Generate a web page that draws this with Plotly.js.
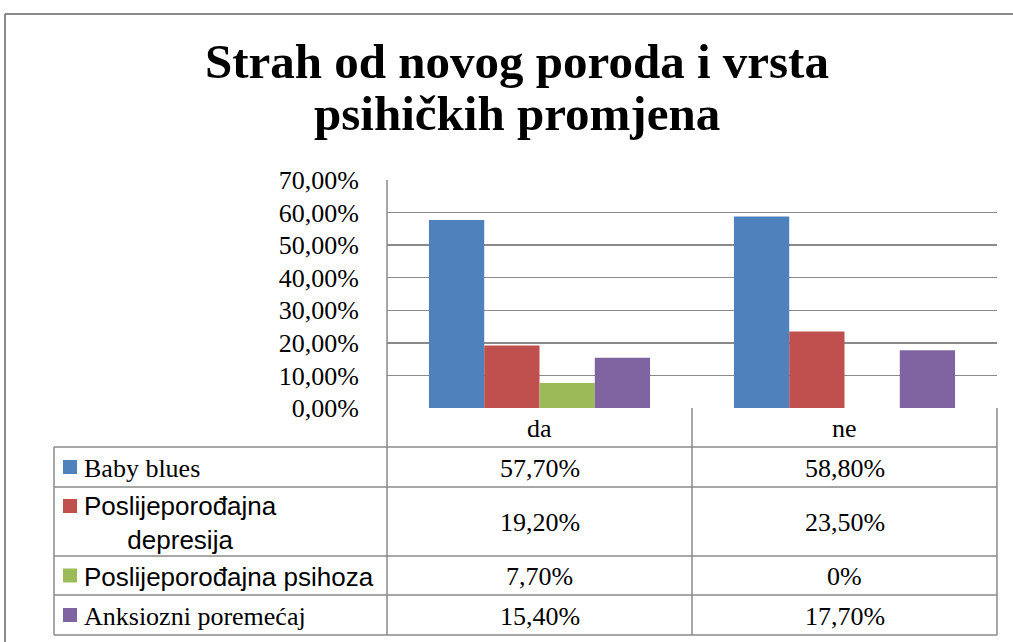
<!DOCTYPE html>
<html>
<head>
<meta charset="utf-8">
<script src="https://cdn.plot.ly/plotly-3.0.1.min.js"></script>
<style>html,body{margin:0;padding:0;background:#fff;}#chart{width:1013px;height:642px;}</style>
</head>
<body>
<div id="chart"></div>
<script>
const categories = ["da", "ne"];
const seriesNames = ["Baby blues", "Poslijeporođajna<br>depresija", "Poslijeporođajna psihoza", "Anksiozni poremećaj"];
const babyBlues = [57.7, 58.8];
const depresija = [19.2, 23.5];
const psihoza = [7.7, 0];
const anksiozni = [15.4, 17.7];
const yTickVals = [0, 10, 20, 30, 40, 50, 60, 70];
const yTickText = ["0,00%", "10,00%", "20,00%", "30,00%", "40,00%", "50,00%", "60,00%", "70,00%"];
const titleLines = ["Strah od novog poroda i vrsta", "psihičkih promjena"];

const seriesValues = [babyBlues, depresija, psihoza, anksiozni];
const colors = ["#4F81BD", "#C0504D", "#9BBB59", "#8064A2"];
const serifFont = "Liberation Serif, DejaVu Serif, serif";
const sansFont = "Liberation Sans, Arial, sans-serif";
const labelFonts = [serifFont, sansFont, sansFont, serifFont];

// pixel layout helpers
const L = 387, R = 997, T = 180, B = 408;
const px = x => (x - L) / (R - L);
const py = y => (B - y) / (B - T);

function fmt(v) {
  if (v === 0) return "0%";
  return v.toFixed(2).replace(".", ",") + "%";
}

const traces = seriesValues.map((vals, i) => ({
  type: "bar",
  x: categories,
  y: vals,
  name: seriesNames[i],
  marker: {color: colors[i], line: {width: 0}},
  hoverinfo: "none"
}));

const gray = "#8a8a8a";
const shapes = [];
function line(x0, y0, x1, y1, w) {
  shapes.push({type: "line", xref: "paper", yref: "paper",
    x0: px(x0), y0: py(y0), x1: px(x1), y1: py(y1),
    line: {color: gray, width: w || 1.5}});
}
// outer border
line(5, 14, 1013, 14, 2);
line(5, 14, 5, 642, 2);
// table
const rowY = [408, 447, 487, 556, 595, 635];
line(387, 180, 387, 635);
line(692, 408, 692, 635);
line(997, 408, 997, 635);
line(54, 447, 54, 635);
for (let k = 1; k < rowY.length; k++) line(54, rowY[k], 997, rowY[k]);

const txtSize = 26;
const annotations = [];
// title lines
titleLines.forEach((t, i) => {
  annotations.push({xref: "paper", yref: "paper", x: px(517), y: py(62 + i * 51), text: "<b>" + t + "</b>",
    showarrow: false, xanchor: "center", yanchor: "middle", borderpad: 0,
    font: {family: serifFont, size: 49, color: "#000"}});
});
// category headers
categories.forEach(c => {
  annotations.push({xref: "x", yref: "paper", x: c, y: py(428), text: c, showarrow: false,
    font: {family: serifFont, size: txtSize, color: "#000"}, xanchor: "center", yanchor: "middle"});
});
// values and legend keys
seriesValues.forEach((vals, i) => {
  const yc = (rowY[i + 1] + rowY[i + 2]) / 2;
  vals.forEach((v, j) => {
    annotations.push({xref: "x", yref: "paper", x: categories[j], y: py(yc + 1), text: fmt(v), showarrow: false,
      font: {family: serifFont, size: txtSize, color: "#000"}, xanchor: "center", yanchor: "middle"});
  });
  const firstLineY = i === 1 ? 506 : yc;
  shapes.push({type: "rect", xref: "paper", yref: "paper",
    x0: px(63), x1: px(77), y0: py(firstLineY - 7), y1: py(firstLineY + 7),
    fillcolor: colors[i], line: {width: 0}});
  annotations.push({xref: "paper", yref: "paper", x: px(82), y: py(yc + 1), text: seriesNames[i], showarrow: false,
    font: {family: labelFonts[i], size: txtSize, color: "#000"},
    xanchor: "left", yanchor: "middle", align: "center"});
});

const layout = {
  width: 1013, height: 642,
  margin: {l: L, r: 1013 - R, t: T, b: 642 - B, pad: 0},
  paper_bgcolor: "#fff", plot_bgcolor: "#fff",
  showlegend: false,
  barmode: "group", bargap: 0.275, bargroupgap: 0,
  xaxis: {type: "category", showticklabels: false, showgrid: false, zeroline: false, showline: false, ticks: ""},
  yaxis: {range: [0, 70], tickvals: yTickVals, ticktext: yTickText, showgrid: true, gridcolor: gray, gridwidth: 1.5,
    zeroline: false, showline: false, ticks: "", ticklabelstandoff: 27,
    tickfont: {family: serifFont, size: txtSize, color: "#000"}},
  shapes: shapes,
  annotations: annotations
};

Plotly.newPlot("chart", traces, layout, {displayModeBar: false, staticPlot: true});
</script>
</body>
</html>
